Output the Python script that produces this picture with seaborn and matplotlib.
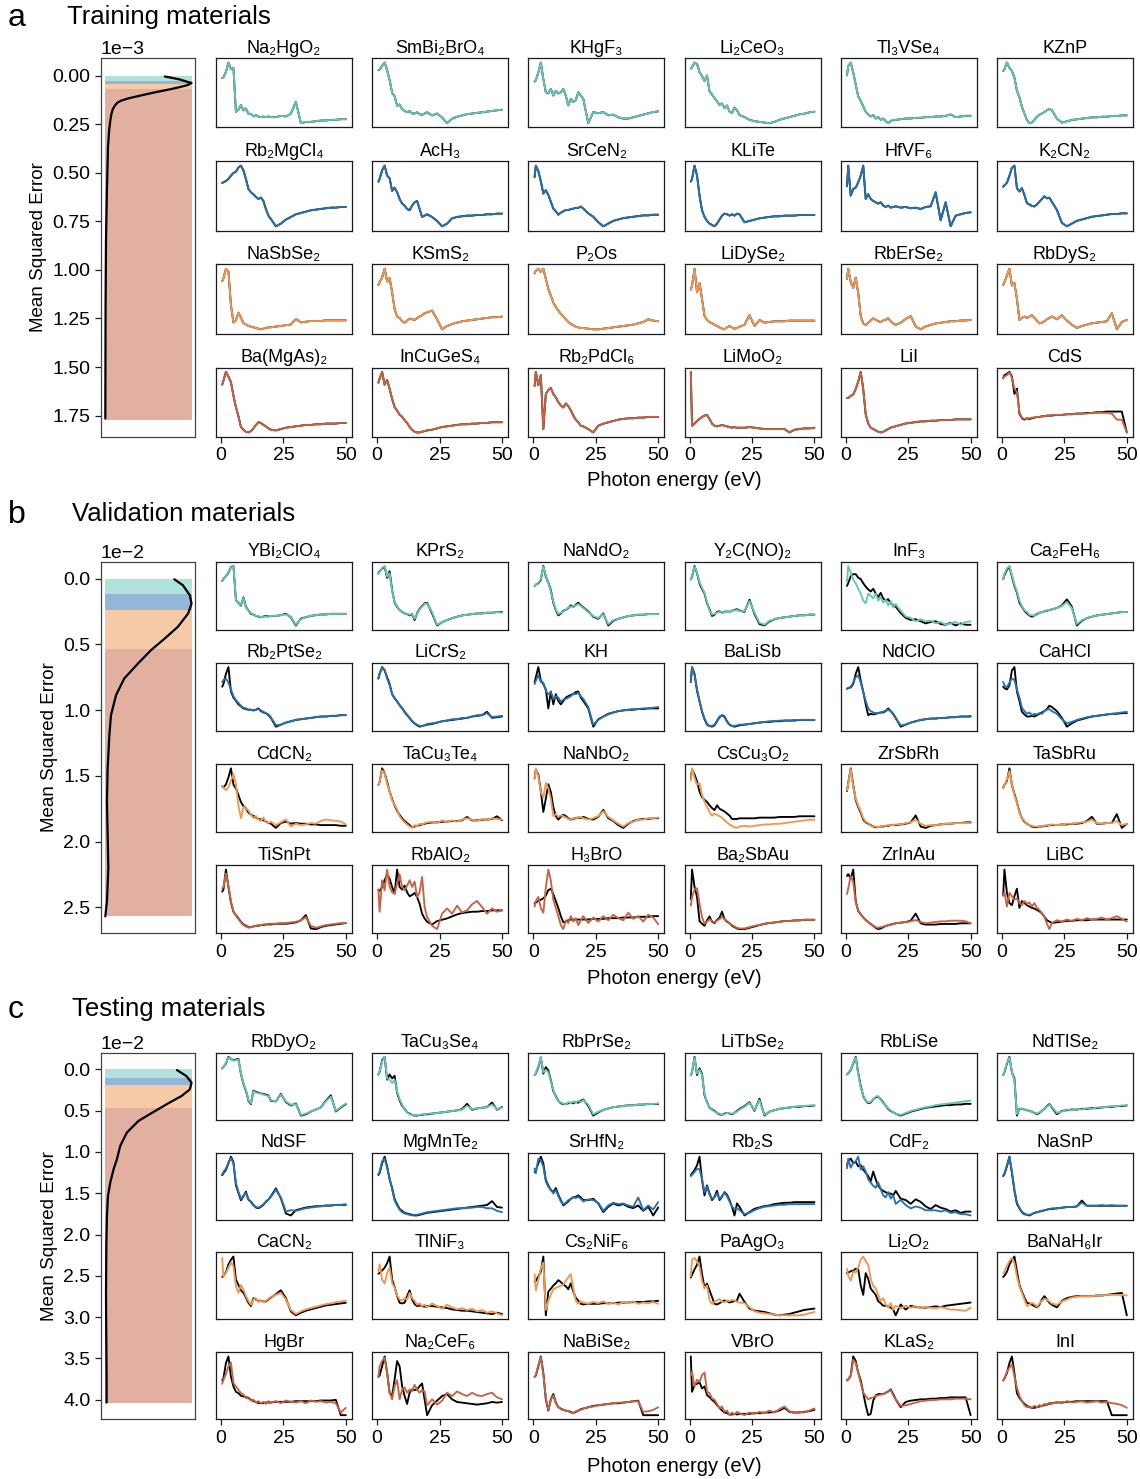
import matplotlib
matplotlib.use("Agg")
import matplotlib.pyplot as plt
import seaborn as sns
from matplotlib.ticker import MultipleLocator

sns.set_style("ticks")
plt.rcParams['font.family'] = ['Liberation Sans', 'DejaVu Sans']
plt.rcParams['axes.unicode_minus'] = True
plt.rcParams['text.color'] = 'black'
plt.rcParams['axes.labelcolor'] = 'black'
plt.rcParams['xtick.color'] = 'black'
plt.rcParams['ytick.color'] = 'black'

# ---------------- shared energy grid (eV) ----------------
energy = [0.5, 1, 2, 3, 4, 5, 6, 7, 8, 9, 10, 11, 12, 13, 14, 15, 16, 17, 18, 19, 20,
          22, 24, 26, 28, 30, 32, 34, 36, 38, 40, 42, 44, 46, 48, 50]

# ---------------- panel a: training ----------------
a_names = ["Na₂HgO₂", "SmBi₂BrO₄", "KHgF₃", "Li₂CeO₃", "Tl₃VSe₄", "KZnP",
           "Rb₂MgCl₄", "AcH₃", "SrCeN₂", "KLiTe", "HfVF₆", "K₂CN₂",
           "NaSbSe₂", "KSmS₂", "P₂Os", "LiDySe₂", "RbErSe₂", "RbDyS₂",
           "Ba(MgAs)₂", "InCuGeS₄", "Rb₂PdCl₆", "LiMoO₂", "LiI", "CdS"]

a_true_r1 = [
    [75,76,84,98,88,90,25,28,35,27,30,22,22,18,20,18,17,18,17,18,17, 17,19,18,22,40,8,10,10,11,12,12,13,13,14,14],
    [85,86,92,97,85,70,50,45,30,32,25,22,20,22,18,18,20,17,16,18,20, 15,18,12,3,10,13,15,17,18,19,20,21,22,23,24],
    [66,68,80,95,70,50,48,55,45,52,48,50,55,45,30,40,35,38,50,45,40, 3,20,18,20,15,16,12,10,10,12,14,16,18,20,21],
    [83,85,92,90,78,72,65,73,50,45,40,35,30,32,25,29,20,18,26,22,15, 12,8,6,5,4,3,5,8,10,12,14,16,17,19,20],
    [76,90,95,80,62,45,38,30,22,18,15,17,12,14,10,12,8,5,8,10,10, 11,12,12,13,13,14,14,15,15,16,18,14,15,16,16],
    [85,88,98,90,85,75,55,45,30,20,10,5,6,10,15,18,20,22,25,27,25, 12,6,8,10,11,12,13,14,14,15,15,16,16,17,17],
]
a_true_r2 = [
    [69,70,72,75,80,84,86,92,95,88,75,60,55,52,48,45,47,42,30,20,15, 4,8,14,18,22,24,26,28,29,30,31,32,32,33,33],
    [71,75,88,95,80,76,57,62,55,45,38,35,30,28,35,40,42,30,18,20,22, 18,12,4,8,16,18,19,20,20,21,21,22,22,23,23],
    [76,93,85,70,52,57,50,40,30,26,21,24,26,28,28,29,30,31,31,33,30, 23,18,10,4,8,12,14,16,17,18,19,20,20,21,21],
    [71,75,95,80,50,28,18,12,8,6,4,8,14,20,23,22,20,22,20,23,22, 10,12,14,16,17,18,19,19,20,20,20,21,21,21,21],
    [64,95,50,60,62,70,80,95,45,52,45,42,40,38,40,35,33,35,32,33,34, 32,33,31,32,30,33,34,55,13,40,4,20,22,24,25],
    [64,66,70,80,92,95,62,57,62,52,40,38,36,35,38,42,46,50,47,48,42, 30,11,6,10,14,16,18,20,21,22,23,24,24,25,25],
]
a_true_r3 = [
    [74,78,92,88,40,15,18,29,22,14,12,10,9,8,7,6,5,6,7,8,8, 9,10,11,12,20,15,16,17,17,17,18,18,18,18,18],
    [71,75,82,95,76,81,60,35,24,22,17,15,18,21,20,19,22,24,26,29,30, 33,20,5,10,13,15,17,18,19,20,21,22,23,23,24],
    [88,92,95,90,95,80,65,55,45,38,33,28,24,20,16,13,11,9,8,7,7, 6,5,5,6,7,8,9,10,11,12,14,16,20,18,17],
    [64,70,95,60,74,50,25,19,16,14,12,10,8,6,5,8,10,8,6,7,9, 12,26,10,19,15,16,17,17,17,18,18,18,18,18,18],
    [74,88,70,62,76,55,24,14,12,15,18,21,19,17,16,18,19,21,17,14,12, 15,20,24,10,6,10,12,14,15,16,17,17,18,18,19],
    [71,75,85,95,70,74,50,19,22,24,22,24,26,22,18,14,15,17,20,22,24, 20,26,18,12,7,10,12,14,15,16,17,29,5,16,19],
]
a_true_r4 = [
    [76,82,95,88,80,60,43,30,14,10,7,6,8,12,17,21,20,17,15,12,10, 9,11,13,14,15,16,17,17,18,18,19,19,19,20,20],
    [79,85,95,76,83,70,55,43,38,32,29,24,20,14,10,7,6,6,7,8,9, 10,12,14,15,16,17,18,18,19,19,20,20,21,21,21],
    [74,95,75,90,10,62,68,71,62,57,50,45,42,48,44,38,30,24,20,15,14, 10,5,15,18,20,22,24,25,26,26,27,27,28,28,28],
    [95,15,18,22,25,28,30,31,25,18,15,14,15,16,15,14,13,12,13,12,12, 12,13,12,11,10,10,10,10,10,5,9,10,11,11,12],
    [57,57,60,62,70,81,95,70,33,20,14,12,10,8,7,8,10,12,14,15,16, 18,20,21,22,23,23,24,24,25,25,25,26,26,26,26],
    [86,90,92,95,88,62,70,33,26,24,26,25,26,27,28,28,29,29,30,30,30, 31,31,32,32,33,33,34,34,35,35,36,36,36,36,5],
]
a_cds_pred = [85,88,90,94,86,70,65,35,27,25,26,26,27,27,28,28,29,29,30,30,31, 31,31,32,32,33,33,33,34,34,34,34,33,24,24,5]
a_pred_r1 = a_true_r1
a_pred_r2 = a_true_r2
a_pred_r3 = a_true_r3
a_pred_r4 = a_true_r4[:5] + [a_cds_pred]

a_kde_mse = [0.005, 0.02, 0.039, 0.05, 0.06, 0.07, 0.08, 0.09, 0.1, 0.11, 0.12, 0.13, 0.14,
             0.155, 0.175, 0.2, 0.231, 0.28, 0.368, 0.59, 0.847, 1.19, 1.765]
a_kde_den = [0.69, 0.86, 1.0, 0.95, 0.86, 0.76, 0.65, 0.54, 0.44, 0.34, 0.25, 0.18, 0.14,
             0.11, 0.085, 0.07, 0.058, 0.045, 0.031, 0.019, 0.008, 0.003, 0.0]
a_bands = [0, 0.03, 0.042, 0.067, 1.77]

# ---------------- panel b: validation ----------------
b_names = ["YBi₂ClO₄", "KPrS₂", "NaNdO₂", "Y₂C(NO)₂", "InF₃", "Ca₂FeH₆",
           "Rb₂PtSe₂", "LiCrS₂", "KH", "BaLiSb", "NdClO", "CaHCl",
           "CdCN₂", "TaCu₃Te₄", "NaNbO₂", "CsCu₃O₂", "ZrSbRh", "TaSbRu",
           "TiSnPt", "RbAlO₂", "H₃BrO", "Ba₂SbAu", "ZrInAu", "LiBC"]

b_true_r1 = [
    [73,76,80,85,93,95,45,41,37,49,35,30,25,24,22,21,20,21,22,21,22, 22,23,25,20,8,18,20,22,23,24,24,25,25,25,25],
    [85,88,92,95,78,88,60,41,35,30,27,25,24,22,24,15,25,32,36,40,41, 25,7,12,15,18,20,22,23,24,25,25,26,26,27,27],
    [66,68,70,75,96,80,71,60,41,30,22,25,29,30,33,37,35,38,41,37,34, 28,20,17,25,7,14,17,19,21,22,23,23,24,24,24],
    [76,80,96,85,70,62,55,41,32,22,24,28,29,27,28,29,28,30,31,32,30, 28,46,25,10,8,14,17,19,20,21,22,23,23,24,24],
    [66,70,80,83,83,78,76,70,65,61,58,62,55,50,56,48,45,47,41,38,36, 27,20,17,18,15,12,14,15,11,10,13,9,12,10,10],
    [76,82,90,95,80,66,56,41,35,29,25,22,20,22,24,26,27,28,29,30,31, 33,37,46,35,7,14,18,20,22,23,24,25,26,27,27],
]
b_pred_r1 = [
    [73,76,80,86,92,95,46,40,38,48,34,30,26,24,22,22,20,21,21,21,22, 22,23,24,21,9,17,20,22,23,24,24,25,25,25,25],
    [84,87,93,96,80,85,58,42,36,30,27,25,24,23,24,17,24,31,35,39,40, 27,8,12,15,18,20,22,23,24,25,25,26,26,27,26],
    [66,68,71,76,95,82,70,58,43,31,24,26,28,30,34,35,36,37,39,36,33, 27,21,18,24,9,15,17,19,21,22,23,23,24,24,24],
    [76,81,95,86,72,64,56,43,30,24,25,27,28,28,27,30,27,31,30,31,29, 29,44,27,12,9,15,17,19,20,21,22,23,23,24,24],
    [72,95,85,75,70,62,55,45,41,55,52,48,55,45,50,42,46,38,44,35,40, 30,22,20,15,18,15,16,12,14,10,12,14,10,14,15],
    [76,84,92,96,82,68,58,44,36,30,27,23,22,22,25,26,27,28,30,30,31, 33,36,42,33,9,15,18,20,22,23,24,25,26,27,27],
]
b_true_r2 = [
    [66,70,85,95,59,50,45,40,37,34,33,32,32,31,32,34,30,28,27,24,20, 7,10,13,15,17,18,19,20,21,22,22,23,23,24,24],
    [78,85,95,90,80,70,55,49,44,39,34,29,24,20,15,12,9,7,8,9,10, 11,13,15,16,17,18,19,20,22,23,24,29,20,21,22],
    [73,80,95,75,70,62,34,59,40,55,45,40,45,50,52,54,55,58,59,50,45, 34,7,18,22,26,28,30,31,32,32,33,33,34,34,34],
    [73,95,85,60,45,29,18,10,8,7,9,15,21,24,22,15,10,8,7,8,9, 10,11,12,13,14,14,15,15,16,16,16,17,17,17,17],
    [63,64,65,70,85,95,75,59,40,24,26,25,26,27,28,28,30,34,30,26,20, 7,10,13,15,17,18,19,19,20,20,21,21,22,22,22],
    [66,64,62,68,90,95,59,45,29,25,22,22,23,22,24,26,28,30,33,38,36, 30,20,7,12,16,18,20,22,23,24,25,26,26,27,27],
]
b_pred_r2 = [
    [73,76,78,72,62,52,46,42,38,35,34,32,32,31,32,33,31,29,27,25,21, 9,10,13,15,17,18,19,20,21,22,22,23,23,24,24],
    [79,86,94,91,78,68,56,48,45,38,35,28,25,19,16,11,10,8,8,9,11, 12,13,15,16,18,18,20,20,22,24,24,27,21,22,23],
    [70,75,83,73,72,60,55,58,48,52,50,44,47,48,50,52,56,55,57,52,48, 36,10,17,22,25,28,30,31,32,33,33,34,34,35,36],
    [74,94,84,62,44,30,19,11,8,8,10,16,22,23,21,14,10,8,8,9,10, 10,11,12,13,14,15,15,16,16,16,17,17,17,17,17],
    [63,64,66,72,80,83,72,58,45,34,30,28,27,27,28,29,31,32,30,25,19, 9,10,13,15,17,18,19,19,20,20,21,21,22,22,23],
    [73,68,65,72,78,76,62,50,35,30,26,28,24,26,25,27,26,30,32,33,30, 26,18,12,14,17,19,21,22,23,24,25,26,27,28,29],
]
b_true_r3 = [
    [67,66,70,80,93,70,64,55,45,39,36,30,27,25,23,21,20,19,17,15,14, 8,15,17,14,15,14,14,13,13,12,12,12,12,11,11],
    [71,75,95,88,75,61,50,41,33,27,22,18,15,12,9,10,11,12,13,14,15, 16,16,17,17,18,18,19,24,19,19,20,20,21,25,19],
    [80,92,85,61,31,50,71,60,38,25,20,24,27,25,22,20,21,22,23,22,24, 21,20,24,34,22,18,12,8,14,18,20,21,21,22,22],
    [80,92,85,75,60,52,48,45,40,36,33,40,35,33,31,28,25,20,20,20,21, 21,21,21,22,22,22,22,23,23,23,23,24,24,24,24],
    [61,73,94,70,48,38,30,20,16,14,12,10,9,9,10,10,11,11,12,12,12, 13,14,16,26,10,8,11,12,13,14,14,15,15,16,16],
    [66,70,76,94,70,57,45,31,22,17,14,12,10,9,9,10,10,11,11,12,12, 12,13,13,14,14,15,18,24,14,14,15,15,28,8,14],
]
b_pred_r3 = [
    [68,65,62,66,75,85,70,40,22,38,36,33,27,22,25,20,18,23,16,15,17, 12,16,20,10,14,12,13,15,14,18,20,19,18,17,13],
    [70,76,92,88,72,62,48,42,35,25,20,16,13,10,8,12,10,14,13,15,16, 17,15,19,16,19,17,20,22,20,18,21,19,22,21,20],
    [78,94,82,60,52,73,65,50,25,28,24,26,25,23,21,20,22,21,24,23,22, 20,22,25,32,24,19,14,10,15,17,20,20,22,22,23],
    [76,94,80,70,72,55,45,38,30,25,28,26,24,22,18,15,12,10,8,7,9, 10,9,10,11,12,12,13,13,14,15,16,17,18,19,19],
    [62,72,93,68,50,40,32,22,17,15,11,10,10,9,10,11,11,12,12,12,13, 13,15,16,20,14,11,12,12,13,14,14,15,15,15,15],
    [65,70,78,90,72,55,44,30,22,18,14,12,11,10,10,10,11,11,12,12,13, 12,13,14,14,15,16,17,20,15,14,15,15,18,12,14],
]
b_true_r4 = [
    [63,66,96,70,47,33,28,23,18,14,12,10,10,11,12,12,13,13,14,14,14, 15,15,15,16,17,20,28,8,7,10,12,13,14,15,16],
    [66,64,70,80,89,82,70,60,96,70,66,72,62,56,58,61,55,45,30,23,18, 14,19,21,23,26,29,31,32,33,33,34,34,35,35,35],
    [47,48,50,52,54,58,66,68,60,50,40,28,19,20,22,23,23,23,23,23,23, 23,24,24,24,25,25,25,26,26,26,27,27,27,28,28],
    [52,96,70,55,19,15,12,20,26,18,16,21,24,33,22,18,16,12,10,8,7, 7,9,11,13,15,16,17,18,19,19,20,20,21,21,21],
    [89,92,85,99,50,35,30,25,21,18,15,12,9,7,8,10,12,13,14,15,16, 17,18,20,31,16,14,14,14,15,15,15,15,16,16,16],
    [56,94,60,45,42,55,66,38,48,45,42,40,38,37,35,33,30,25,20,18,16, 17,18,19,19,20,20,20,21,21,21,21,21,21,21,21],
]
b_pred_r4 = [
    [68,70,90,72,48,34,27,22,17,13,11,9,10,11,12,13,13,14,14,15,15, 15,16,16,17,18,20,25,12,9,11,13,14,15,16,16],
    [66,33,80,65,96,70,62,60,75,89,70,65,72,80,70,78,55,62,85,40,25, 12,7,30,38,30,42,32,35,44,49,40,30,38,33,35],
    [42,50,56,40,33,70,96,80,52,40,28,15,9,22,18,28,20,25,15,22,28, 18,26,20,28,22,30,25,22,33,24,28,20,30,26,16],
    [42,55,66,68,45,25,15,18,22,19,17,20,22,25,22,19,16,13,11,9,8, 8,10,12,13,15,16,17,18,19,19,20,20,21,21,21],
    [61,70,89,80,48,36,30,25,21,18,15,12,10,9,10,11,12,13,14,15,16, 17,18,19,21,18,16,17,18,19,19,20,20,20,19,16],
    [56,61,40,60,55,50,52,45,42,48,44,46,40,45,38,35,30,25,15,7,16, 20,18,21,19,22,20,23,21,22,24,21,23,26,22,18],
]
b_kde_mse = [0.005, 0.051, 0.127, 0.19, 0.266, 0.367, 0.455, 0.544, 0.645, 0.759, 0.885, 1.037,
             1.189, 1.442, 1.695, 1.948, 2.2, 2.454, 2.568]
b_kde_den = [0.80, 0.90, 0.98, 1.0, 0.96, 0.84, 0.69, 0.53, 0.38, 0.22, 0.125, 0.066,
             0.047, 0.027, 0.019, 0.027, 0.035, 0.019, 0.0]
b_bands = [0, 0.114, 0.235, 0.539, 2.568]

# ---------------- panel c: testing ----------------
c_names = ["RbDyO₂", "TaCu₃Se₄", "RbPrSe₂", "LiTbSe₂", "RbLiSe", "NdTlSe₂",
           "NdSF", "MgMnTe₂", "SrHfN₂", "Rb₂S", "CdF₂", "NaSnP",
           "CaCN₂", "TlNiF₃", "Cs₂NiF₆", "PaAgO₃", "Li₂O₂", "BaNaH₆Ir",
           "HgBr", "Na₂CeF₆", "NaBiSe₂", "VBrO", "KLaS₂", "InI"]

c_true_r1 = [
    [78,80,85,95,92,90,91,92,70,55,45,30,25,45,43,42,41,40,39,38,30, 29,40,28,23,26,8,10,14,17,20,30,38,14,20,25],
    [68,72,90,95,60,68,62,66,40,28,20,15,10,8,6,5,5,6,6,7,7, 8,9,10,11,12,13,15,23,14,16,17,18,25,14,18],
    [68,70,80,95,70,80,75,60,43,35,28,24,23,23,24,25,24,26,25,28,30, 20,5,10,14,16,18,19,20,21,21,22,22,23,23,23],
    [68,72,95,68,78,70,38,28,20,17,15,12,10,9,11,12,11,10,12,15,18, 22,28,15,33,8,14,16,18,19,20,21,21,22,22,23],
    [68,70,75,85,95,70,50,35,28,24,25,30,33,34,30,25,20,15,12,10,8, 5,8,11,13,15,17,18,19,20,21,21,22,22,23,23],
    [68,72,85,95,72,63,8,18,18,17,16,15,14,12,10,12,15,18,22,25,20, 10,15,16,17,17,18,18,19,19,20,21,21,22,22,23],
]
c_pred_r1 = [
    [77,80,86,94,93,89,90,91,71,56,46,31,26,44,42,41,41,39,38,37,31, 29,39,29,24,25,9,11,14,17,20,29,36,15,21,26],
    [67,73,88,95,62,60,55,60,42,30,22,14,10,7,6,5,6,6,7,7,8, 8,9,10,11,12,13,14,20,15,16,17,18,22,15,17],
    [68,71,82,96,72,76,72,58,45,34,27,25,24,22,26,24,27,25,28,26,29, 22,7,11,14,16,18,19,20,21,21,22,22,23,23,24],
    [68,73,94,70,76,68,40,27,21,16,14,12,11,9,10,12,11,11,12,14,17, 21,27,16,31,9,14,16,18,19,20,21,22,22,23,23],
    [68,71,76,86,94,68,48,36,28,25,26,30,34,35,29,24,20,16,13,10,8, 6,9,12,14,16,18,19,21,22,23,24,25,26,27,28],
    [68,73,86,94,73,60,10,17,19,16,17,14,15,11,11,13,14,19,21,24,21, 12,14,17,16,18,17,19,18,20,20,21,22,22,23,23],
]
c_true_r2 = [
    [67,70,75,85,95,87,52,40,29,35,42,30,27,22,18,17,19,22,27,30,35, 47,32,9,6,14,16,18,19,20,20,21,21,22,22,22],
    [67,70,85,95,80,60,47,30,22,15,12,9,8,7,6,5,5,6,7,8,9, 10,11,12,13,14,15,16,17,18,19,20,21,27,18,17],
    [72,75,85,95,85,60,52,45,42,48,38,30,22,25,28,32,34,35,37,34,30, 30,32,25,12,20,25,22,24,20,18,22,14,20,7,19],
    [67,70,75,82,95,60,37,52,40,30,35,44,30,35,42,38,30,20,7,25,20, 7,12,17,19,21,22,24,25,26,26,27,27,27,27,27],
    [82,88,92,85,87,80,82,75,70,65,57,72,60,50,45,42,40,38,38,35,42, 30,28,22,29,25,18,14,20,16,14,10,12,8,10,10],
    [65,68,80,95,70,42,22,15,9,6,5,4,6,8,9,10,11,12,13,14,14, 15,16,17,17,18,27,19,19,19,19,19,19,19,19,19],
]
c_pred_r2 = [
    [68,72,77,86,93,85,55,42,31,36,40,31,26,21,19,18,20,23,26,30,34, 45,33,12,14,13,15,17,18,19,20,21,21,22,22,23],
    [68,72,88,92,78,62,45,28,20,14,10,8,7,6,5,6,6,7,8,9,10, 11,12,13,14,15,16,16,17,17,18,18,16,16,12,10],
    [77,70,92,90,80,58,50,46,40,45,36,28,24,26,30,31,35,33,35,32,28, 31,30,26,14,22,26,24,25,22,20,34,15,22,16,27],
    [66,68,72,77,76,62,42,50,38,32,34,40,32,36,41,36,28,20,17,18,15, 9,11,15,18,20,21,22,23,23,24,24,24,24,24,24],
    [77,92,78,85,88,95,75,80,72,60,55,50,47,55,45,35,32,40,30,35,22, 28,20,15,18,16,12,12,12,10,12,8,9,6,6,4],
    [66,69,82,94,72,44,24,16,10,7,5,5,6,8,9,10,11,12,13,14,15, 15,16,17,17,18,24,19,19,19,20,19,20,19,19,19],
]
c_true_r3 = [
    [64,66,71,83,90,95,60,52,44,40,33,25,20,32,30,28,28,27,27,30,33, 38,44,32,12,6,10,13,15,17,19,21,22,23,24,25],
    [69,70,74,78,85,95,60,49,35,25,24,25,35,44,30,23,20,21,20,19,20, 20,19,18,17,15,14,13,13,12,11,10,9,8,10,8],
    [57,58,65,73,98,1,40,45,50,54,59,56,52,49,44,54,40,30,25,20,19, 20,20,20,21,21,21,22,22,22,23,23,23,24,24,25],
    [64,68,76,83,95,69,49,55,45,35,25,24,26,28,30,29,27,28,29,30,40, 28,18,15,14,13,11,9,8,9,10,12,14,16,17,18],
    [69,70,72,73,76,75,50,35,69,60,45,40,35,25,22,18,18,17,15,12,3, 20,12,18,16,15,15,16,17,16,18,19,20,21,22,23],
    [64,66,72,83,90,95,73,52,42,33,25,24,22,20,18,22,30,35,30,25,22, 18,28,32,34,35,35,35,35,36,36,37,38,39,40,6],
]
c_pred_r3 = [
    [93,64,70,78,86,80,50,40,52,45,35,28,22,30,32,26,29,26,28,31,34, 37,40,30,14,8,12,15,17,19,21,23,24,26,27,28],
    [73,83,60,54,70,78,55,48,36,30,28,32,30,40,32,28,22,24,20,22,18, 24,20,16,22,18,15,17,14,16,12,14,10,12,9,6],
    [69,42,60,78,88,10,25,35,44,46,48,50,52,58,64,69,45,25,20,24,22, 20,23,21,24,20,22,19,23,21,24,20,22,21,23,20],
    [66,90,93,88,80,59,48,52,30,25,28,30,32,28,27,30,29,31,30,28,27, 26,20,14,12,11,10,9,8,8,8,8,8,9,11,13],
    [76,65,57,72,70,78,90,95,88,82,60,49,45,35,25,30,20,15,22,12,18, 14,18,15,17,14,16,15,14,16,14,12,12,11,10,15],
    [69,72,81,88,93,85,65,50,40,30,20,22,25,23,19,24,28,31,30,27,24, 22,27,30,33,34,35,35,35,36,36,37,37,37,37,36],
]
c_true_r4 = [
    [59,62,85,95,65,50,42,40,36,35,34,33,30,28,27,25,25,25,26,26,26, 27,27,27,27,28,28,28,28,28,29,29,29,30,7,7],
    [64,66,80,95,70,40,35,60,88,80,50,35,23,40,45,44,45,50,54,30,6, 21,28,35,38,30,26,25,24,23,22,23,24,26,25,26],
    [64,66,80,95,70,30,13,30,38,25,18,16,14,13,12,11,9,11,13,15,16, 18,20,21,22,23,24,24,25,26,27,28,6,6,6,6],
    [93,40,50,52,54,45,48,35,32,28,25,20,16,12,9,8,6,6,7,6,7, 7,7,8,8,9,9,10,12,16,10,9,9,10,11,13],
    [59,60,66,95,88,70,59,40,21,6,8,28,36,38,38,38,40,42,45,38,30, 18,26,28,29,30,30,31,31,32,32,33,33,33,33,6],
    [59,62,70,85,95,70,40,33,28,24,21,19,18,18,19,20,21,22,23,24,25, 26,26,27,27,28,28,28,28,28,28,28,7,7,7,7],
]
c_pred_r4 = [
    [54,60,69,80,86,55,50,45,40,38,33,32,29,30,26,28,25,27,24,28,26, 28,25,29,27,26,28,25,29,27,28,26,27,25,11,18],
    [64,80,88,93,70,40,30,50,59,30,45,48,40,45,42,52,45,40,44,42,21, 30,22,28,40,35,42,38,35,40,36,35,38,40,33,30],
    [64,67,82,94,68,32,14,29,36,24,19,15,14,13,12,10,9,12,13,14,16, 18,19,21,22,23,24,25,25,26,27,27,11,12,14,18],
    [64,70,48,58,55,65,69,40,38,30,28,22,15,18,10,12,5,9,6,10,8, 5,9,7,10,8,12,9,14,18,11,8,10,9,12,15],
    [58,60,65,90,85,70,55,40,35,30,32,33,35,36,37,38,40,42,44,36,30, 20,21,23,25,27,28,29,29,30,30,30,31,31,31,30],
    [59,62,72,78,83,65,48,36,28,22,19,20,18,21,19,22,20,24,22,26,24, 27,25,28,26,27,28,26,27,28,26,27,25,24,22,18],
]
c_kde_mse = [0.008, 0.081, 0.161, 0.242, 0.322, 0.411, 0.503, 0.624, 0.765, 0.926, 1.088, 1.208,
             1.369, 1.531, 1.772, 2.135, 2.739, 3.343, 3.746, 4.036]
c_kde_den = [0.83, 0.94, 1.0, 0.98, 0.885, 0.73, 0.58, 0.385, 0.25, 0.173, 0.135, 0.096,
             0.058, 0.031, 0.019, 0.012, 0.008, 0.012, 0.015, 0.015]
c_bands = [0, 0.10, 0.193, 0.463, 4.036]

# ---------------- style ----------------
row_colors = ['#65c5b9', '#2771b1', '#f19751', '#c76343']
W, H = 1140, 1479


def rect(left, top, w, h):
    return [left / W, 1 - (top + h) / H, w / W, h / H]


panels = [
    dict(letter='a', title='Training materials', names=a_names,
         true=[a_true_r1, a_true_r2, a_true_r3, a_true_r4],
         pred=[a_pred_r1, a_pred_r2, a_pred_r3, a_pred_r4],
         mse=a_kde_mse, den=a_kde_den, bands=a_bands, scale=1e-3, step=0.25,
         span=(58.3, 436.7), head_y=18, title_x=67, xlabel_y=480),
    dict(letter='b', title='Validation materials', names=b_names,
         true=[b_true_r1, b_true_r2, b_true_r3, b_true_r4],
         pred=[b_pred_r1, b_pred_r2, b_pred_r3, b_pred_r4],
         mse=b_kde_mse, den=b_kde_den, bands=b_bands, scale=1e-2, step=0.5,
         span=(561.7, 933.3), head_y=515, title_x=72, xlabel_y=979),
    dict(letter='c', title='Testing materials', names=c_names,
         true=[c_true_r1, c_true_r2, c_true_r3, c_true_r4],
         pred=[c_pred_r1, c_pred_r2, c_pred_r3, c_pred_r4],
         mse=c_kde_mse, den=c_kde_den, bands=c_bands, scale=1e-2, step=0.5,
         span=(1052.7, 1419.3), head_y=1010, title_x=72, xlabel_y=1466),
]

fig = plt.figure(figsize=(W / 100, H / 100), dpi=100)
spine_col = '#1a1a1a'

for p in panels:
    top, bot = p['span']
    span = bot - top
    rh = span / 5.47
    gap = 0.49 * rh

    # ---- header ----
    fig.text(8 / W, 1 - p['head_y'] / H, p['letter'], fontsize=23, va='center', ha='left')
    fig.text(p['title_x'] / W, 1 - (p['head_y'] - 1) / H, p['title'], fontsize=18.5,
             va='center', ha='left')

    # ---- left KDE panel ----
    axk = fig.add_axes(rect(101, top, 94, span))
    sc = p['scale']
    b = p['bands']
    for i in range(4):
        axk.fill_betweenx([b[i] * sc, b[i + 1] * sc], 0, 1, color=row_colors[i],
                          alpha=0.5, lw=0)
    sns.lineplot(x=p['den'], y=[v * sc for v in p['mse']], ax=axk, color='black',
                 lw=1.6, sort=False, estimator=None, orient='y')
    hi = b[-1] * sc
    axk.set_ylim(hi * 1.05, -0.05 * hi)
    axk.set_xlim(-0.05, 1.04)
    axk.set_xticks([])
    axk.yaxis.set_major_locator(MultipleLocator(p['step'] * sc))
    axk.ticklabel_format(axis='y', style='sci', scilimits=(0, 0))
    axk.tick_params(axis='y', labelsize=14, length=4, width=0.9, color=spine_col)
    axk.yaxis.get_offset_text().set_fontsize(14)
    axk.set_xlabel('')
    axk.set_ylabel('Mean Squared Error', fontsize=13.5, labelpad=4)
    for s in axk.spines.values():
        s.set_color('#444444')
        s.set_linewidth(0.9)

    # ---- spectra grid ----
    for r in range(4):
        for c in range(6):
            k = r * 6 + c
            ax = fig.add_axes(rect(216 + c * 156.2, top + r * (rh + gap), 136, rh))
            yt = p['true'][r][c]
            yp = p['pred'][r][c]
            sns.lineplot(x=energy, y=yt, ax=ax, color='black', lw=1.35,
                         sort=False, estimator=None)
            sns.lineplot(x=energy, y=yp, ax=ax, color=row_colors[r], lw=1.35,
                         sort=False, estimator=None)
            ax.margins(x=0.05, y=0.07)
            ax.set_yticks([])
            ax.set_xticks([0, 25, 50])
            ax.set_xlabel('')
            ax.set_ylabel('')
            ax.set_title(p['names'][k], fontsize=13, pad=4)
            if r < 3:
                ax.tick_params(axis='x', bottom=False, labelbottom=False)
            else:
                ax.tick_params(axis='x', labelsize=14, length=4, width=0.9,
                               color=spine_col)
            for s in ax.spines.values():
                s.set_color(spine_col)
                s.set_linewidth(0.9)

    fig.text(674 / W, 1 - p['xlabel_y'] / H, 'Photon energy (eV)', fontsize=14.5,
             ha='center', va='center')

fig.savefig('out.png', dpi=100)
